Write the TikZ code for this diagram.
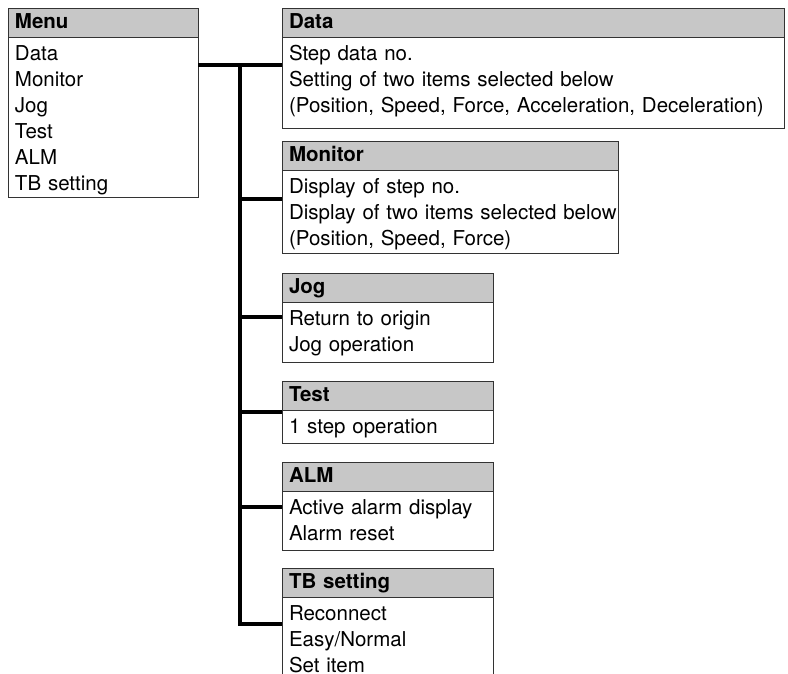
\documentclass[tikz,border=0pt]{standalone}
\usepackage{fontspec}
\setmainfont{TeX Gyre Heros}
\usetikzlibrary{positioning}
\tikzset{
  head/.style={draw=black!80, line width=0.8pt, fill=black!22, outer sep=0pt, text width=#1, align=left, inner xsep=7pt, inner ysep=0pt, minimum height=29pt, text height=15pt, text depth=4pt, font=\fontsize{20.5}{26}\selectfont\bfseries},
  body/.style={draw=black!80, line width=0.8pt, fill=white, outer sep=0pt, text width=#1, align=left, inner xsep=7pt, inner ysep=0pt, text height=23.5pt, font=\fontsize{20.5}{26}\selectfont},
  link/.style={line width=4pt, draw=black}
}

\begin{document}
\begin{tikzpicture}[x=1pt, y=1pt]
  \useasboundingbox (0,0) rectangle (788,-673);
  \clip (0,0) rectangle (788,-673);

  % menu list
  \node[head=176pt, anchor=north west] (hmenu) at (8,-8) {Menu};
  \node[body=176pt, text depth=136.5pt, below=0pt of hmenu.south west, anchor=north west] (bmenu) {Data\\Monitor\\Jog\\Test\\ALM\\TB setting};

  % sub menus
  \node[head=488pt, anchor=north west] (hdata) at (282,-8) {Data};
  \node[body=488pt, text depth=67.5pt, below=0pt of hdata.south west, anchor=north west] (bdata) {Step data no.\\Setting of two items selected below\\(Position, Speed, Force, Acceleration, Deceleration)};

  \node[head=322pt, below=13pt of bdata.south west, anchor=north west] (hmon) {Monitor};
  \node[body=322pt, text depth=59.5pt, below=0pt of hmon.south west, anchor=north west] (bmon) {Display of step no.\\\mbox{Display of two items selected below}\\(Position, Speed, Force)};

  \node[head=197pt, below=20pt of bmon.south west, anchor=north west] (hjog) {Jog};
  \node[body=197pt, text depth=36.5pt, below=0pt of hjog.south west, anchor=north west] (bjog) {Return to origin\\Jog operation};

  \node[head=197pt, below=19pt of bjog.south west, anchor=north west] (htest) {Test};
  \node[body=197pt, text depth=9.5pt, below=0pt of htest.south west, anchor=north west] (btest) {1 step operation};

  \node[head=197pt, below=19pt of btest.south west, anchor=north west] (halm) {ALM};
  \node[body=197pt, text depth=35.5pt, below=0pt of halm.south west, anchor=north west] (balm) {Active alarm display\\Alarm reset};

  \node[head=197pt, below=18pt of balm.south west, anchor=north west] (htb) {TB setting};
  \node[body=197pt, text depth=66.5pt, below=0pt of htb.south west, anchor=north west] (btb) {Reconnect\\Easy/Normal\\Set item};

  % tree lines
  \coordinate (t0) at (240,-65);
  \coordinate (t1) at (240,-199);
  \coordinate (t2) at (240,-317);
  \coordinate (t3) at (240,-412);
  \coordinate (t4) at (240,-507);
  \coordinate (t5) at (240,-624);

  \draw[link] (bmenu.east |- t0) -- (bdata.west |- t0);
  \draw[link] (t0) -- (t5) -- (btb.west |- t5);
  \draw[link] (t1) -- (bmon.west |- t1);
  \draw[link] (t2) -- (bjog.west |- t2);
  \draw[link] (t3) -- (btest.west |- t3);
  \draw[link] (t4) -- (balm.west |- t4);
\end{tikzpicture}
\end{document}
